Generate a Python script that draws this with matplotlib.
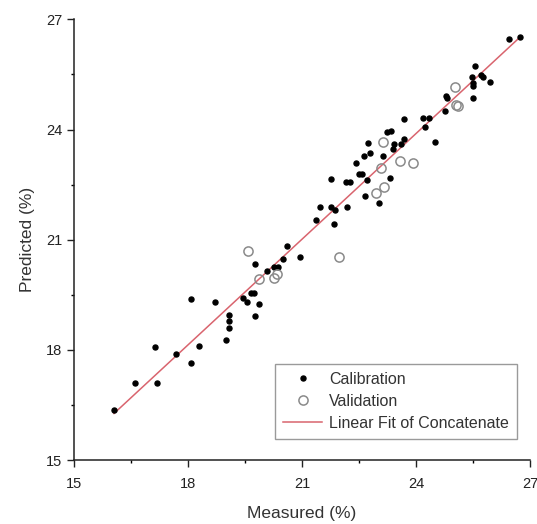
# %%
# Imports
import matplotlib.pyplot as plt
import numpy as np

plt.rcParams["font.family"] = ["Liberation Sans", "DejaVu Sans"]

# %%
# Data
cal_measured = [16.05, 16.59, 17.18, 17.13, 17.68, 18.07, 18.30, 18.07, 18.70, 18.99,
                19.09, 19.09, 19.09, 19.45, 19.54, 19.66, 19.74, 19.76, 19.87, 19.77,
                20.09, 20.26, 20.37, 20.49, 20.61, 20.95, 21.36, 21.48, 21.75, 21.75,
                21.86, 21.83, 22.17, 22.15, 22.25, 22.42, 22.51, 22.58, 22.62, 22.66,
                22.70, 22.74, 22.79, 23.03, 23.14, 23.32, 23.23, 23.35, 23.40, 23.41,
                23.61, 23.69, 23.69, 24.19, 24.35, 24.23, 24.50, 24.77, 24.79, 24.81,
                25.51, 25.51, 25.51, 25.56, 25.47, 25.70, 25.76, 25.95, 26.44, 26.74]
cal_predicted = [16.36, 17.10, 17.10, 18.08, 17.88, 17.65, 18.11, 19.38, 19.30, 18.27,
                 18.96, 18.78, 18.60, 19.42, 19.31, 19.54, 19.54, 18.92, 19.24, 20.34,
                 20.14, 20.25, 20.25, 20.48, 20.83, 20.53, 21.54, 21.90, 22.66, 21.90,
                 21.82, 21.43, 21.90, 22.57, 22.57, 23.09, 22.80, 22.80, 23.27, 22.20,
                 22.63, 23.63, 23.36, 22.01, 23.29, 22.69, 23.92, 23.96, 23.47, 23.62,
                 23.62, 23.73, 24.28, 24.31, 24.31, 24.06, 23.66, 24.50, 24.91, 24.86,
                 24.86, 25.19, 25.28, 25.74, 25.42, 25.49, 25.43, 25.29, 26.46, 26.53]

val_measured = [19.58, 19.87, 20.25, 20.35, 21.97, 22.95, 23.07, 23.14, 23.16, 23.57,
                23.93, 25.02, 25.05, 25.10]
val_predicted = [20.70, 19.92, 19.96, 20.08, 20.53, 22.26, 22.95, 23.67, 22.43, 23.15,
                 23.08, 25.17, 24.66, 24.64]

# %%
# Linear fit of the concatenated data
all_x = np.concatenate([cal_measured, val_measured])
all_y = np.concatenate([cal_predicted, val_predicted])
slope, intercept = np.polyfit(all_x, all_y, 1)
fit_x = np.array([all_x.min(), all_x.max()])
fit_y = slope * fit_x + intercept

# %%
# Plot
fig = plt.figure(figsize=(5.37, 5.24), dpi=100)
ax = fig.add_axes([0.138, 0.122, 0.849, 0.841])

ax.plot(cal_measured, cal_predicted, "o", color="black", markersize=3.6,
        label="Calibration", zorder=3)
ax.plot(val_measured, val_predicted, "o", markerfacecolor="none",
        markeredgecolor="#8a8a8a", markeredgewidth=1.1, markersize=6.6,
        label="Validation", zorder=4)
ax.plot(fit_x, fit_y, color="#d9646e", linewidth=1.1,
        label="Linear Fit of Concatenate", zorder=2)

ax.set_xlim(15, 27)
ax.set_ylim(15, 27)
ax.set_xticks([15, 18, 21, 24, 27])
ax.set_yticks([15, 18, 21, 24, 27])
ax.set_xticks([16.5, 19.5, 22.5, 25.5], minor=True)
ax.set_yticks([16.5, 19.5, 22.5, 25.5], minor=True)
ax.tick_params(which="major", direction="out", length=5, width=1,
               labelsize=10.5, colors="#222222")
ax.tick_params(axis="x", which="major", pad=7)
ax.tick_params(which="minor", direction="out", length=2.5, width=1)

for side in ["top", "right"]:
    ax.spines[side].set_visible(False)
for side in ["left", "bottom"]:
    ax.spines[side].set_linewidth(1.1)
    ax.spines[side].set_color("#222222")

ax.set_xlabel("Measured (%)", fontsize=12.5, color="#333333", labelpad=11)
ax.set_ylabel("Predicted (%)", fontsize=12.5, color="#333333", labelpad=8)

leg = ax.legend(loc="lower right", bbox_to_anchor=(0.971, 0.048), fontsize=11.5,
                fancybox=False, framealpha=1, edgecolor="#9a9a9a",
                handlelength=2.4, handletextpad=0.45, borderpad=0.5,
                labelspacing=0.45, borderaxespad=0)
leg.get_frame().set_linewidth(1.0)
for text in leg.get_texts():
    text.set_color("#333333")

fig.savefig("out.png", dpi=100)
